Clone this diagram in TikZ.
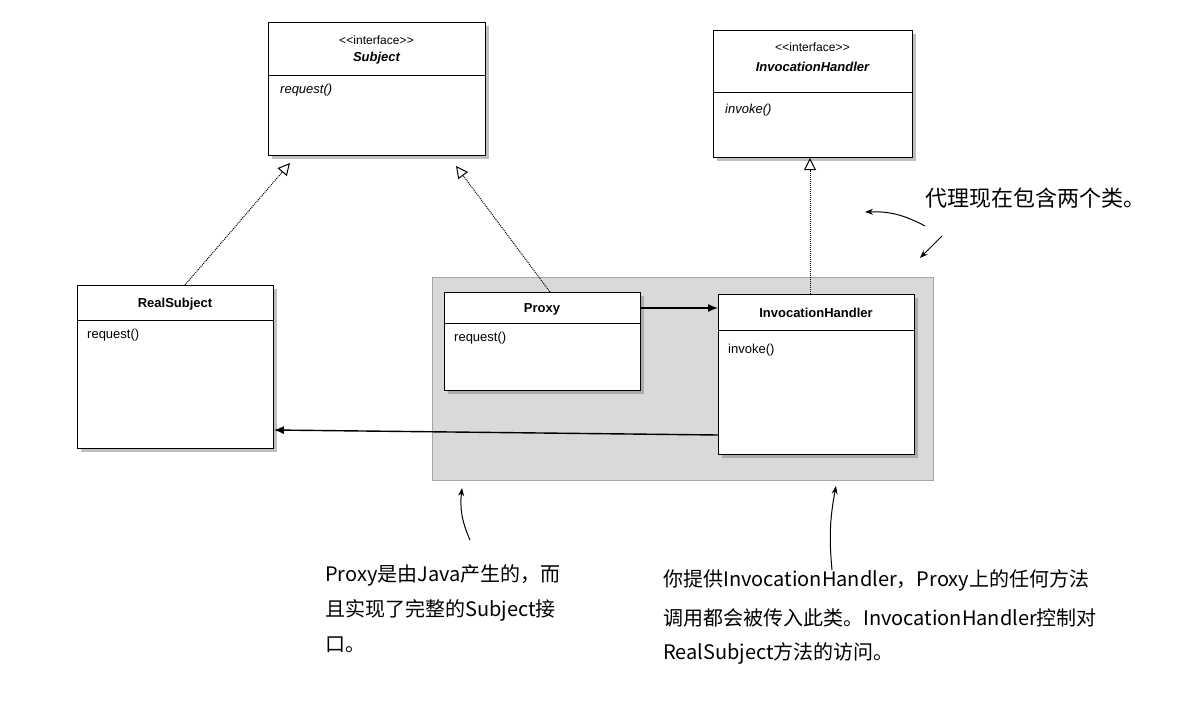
\documentclass[tikz,border=0pt]{standalone}
\usepackage{fontspec}
\setmainfont[Ligatures=NoCommon]{Liberation Sans}
\newfontfamily\cjk{Noto Sans CJK SC}
\usetikzlibrary{arrows.meta,shadows}
\newcommand{\ifc}{\char"3C\kern0.3pt\char"3C interface\char"3E\kern0.3pt\char"3E}
\begin{document}
\begin{tikzpicture}[x=1pt,y=-1pt,
  cls/.style={draw=black,fill=white,line width=0.9pt,drop shadow={shadow xshift=4pt,shadow yshift=-4pt,fill=black!50}},
  realize/.style={densely dotted,line width=1pt,-{Triangle[open,length=12pt,width=12pt]}},
  assoc/.style={line width=1.4pt,-{Latex[length=10pt,width=8pt]}},
  note/.style={font=\cjk\fontsize{20}{20}\selectfont,anchor=west,inner sep=0pt},
  hand/.style={line width=1pt,-{Stealth[length=8pt]}},
  lbl/.style={font=\fontsize{13}{13}\selectfont,anchor=west,inner sep=0pt}]
\useasboundingbox (0,0) rectangle (1194,712);
\fill[white] (0,0) rectangle (1194,712);
\node[draw=black!35,fill=black!15,minimum width=501pt,minimum height=203pt,anchor=north west,inner sep=0pt] (grp) at (432,277) {};
% Subject
\node[cls,minimum width=217pt,minimum height=133pt,anchor=north west,inner sep=0pt] (subj) at (268,22) {};
\draw (268,75) -- (485,75);
\node[font=\fontsize{12}{12}\selectfont] (subjs) at (376.5,40) {\ifc};
\node[font=\bfseries\itshape\fontsize{13}{13}\selectfont] (subjn) at (376.5,58) {Subject};
\node[lbl,font=\itshape\fontsize{13}{13}\selectfont] (subjo) at (280,90) {request()};
% IH interface
\node[cls,minimum width=199pt,minimum height=127pt,anchor=north west,inner sep=0pt] (ihi) at (713,30) {};
\draw (713,92) -- (912,92);
\node[font=\fontsize{12}{12}\selectfont] (ihis) at (812.5,47) {\ifc};
\node[font=\bfseries\itshape\fontsize{13}{13}\selectfont] (ihin) at (812.5,67) {InvocationHandler};
\node[lbl,font=\itshape\fontsize{13}{13}\selectfont] (ihio) at (725,110) {invoke()};
% RealSubject
\node[cls,minimum width=196pt,minimum height=163pt,anchor=north west,inner sep=0pt] (rs) at (77,285) {};
\draw (77,320) -- (273,320);
\node[font=\bfseries\fontsize{13}{13}\selectfont] (rsn) at (175,304) {RealSubject};
\node[lbl] (rso) at (87,335) {request()};
% Proxy
\node[cls,minimum width=196pt,minimum height=98pt,anchor=north west,inner sep=0pt] (px) at (444,292) {};
\draw (444,323) -- (640,323);
\node[font=\bfseries\fontsize{13}{13}\selectfont] (pxn) at (542,309) {Proxy};
\node[lbl] (pxo) at (454,338) {request()};
% IH
\node[cls,minimum width=196pt,minimum height=160pt,anchor=north west,inner sep=0pt] (ih) at (718,294) {};
\draw (718,330) -- (914,330);
\node[font=\bfseries\fontsize{13}{13}\selectfont] (ihn) at (816,313) {InvocationHandler};
\node[lbl] (iho) at (728,350) {invoke()};
% connectors
\coordinate (a1) at (185,285); \coordinate (b1) at (290,163);
\draw[realize] (a1) -- (b1);
\coordinate (a2) at (550,292); \coordinate (b2) at (456,166);
\draw[realize] (a2) -- (b2);
\coordinate (a3) at (810,294); \coordinate (b3) at (810,158);
\draw[realize] (a3) -- (b3);
\draw[assoc] (px.east |- 0,308) -- (ih.west |- 0,308);
\draw[assoc] (ih.west |- 0,435) -- (rs.east |- 0,430);
% notes
\node[note,font=\cjk\fontsize{22}{22}\selectfont] (n1) at (925,198) {代理现在包含两个类。};
\coordinate (h1s) at (925,226); \coordinate (h1e) at (865,212);
\draw[hand] (h1s) to[bend right=15] (h1e);
\coordinate (h2s) at (942,236); \coordinate (h2e) at (920,258);
\draw[hand] (h2s) -- (h2e);
\node[note] (n2a) at (325,575) {Proxy是由Java产生的，而};
\node[note] (n2b) at (325,610) {且实现了完整的Subject接};
\node[note] (n2c) at (325,645) {口。};
\coordinate (h3s) at (470,540); \coordinate (h3e) at (462,488);
\draw[hand] (h3s) to[bend left=15] (h3e);
\node[note] (n3a) at (663,580) {你提供InvocationHandler，Proxy上的任何方法};
\node[note] (n3b) at (663,618) {调用都会被传入此类。InvocationHandler控制对};
\node[note] (n3c) at (663,653) {RealSubject方法的访问。};
\coordinate (h4s) at (832,570); \coordinate (h4e) at (836,486);
\draw[hand] (h4s) to[bend left=8] (h4e);
\end{tikzpicture}
\end{document}
